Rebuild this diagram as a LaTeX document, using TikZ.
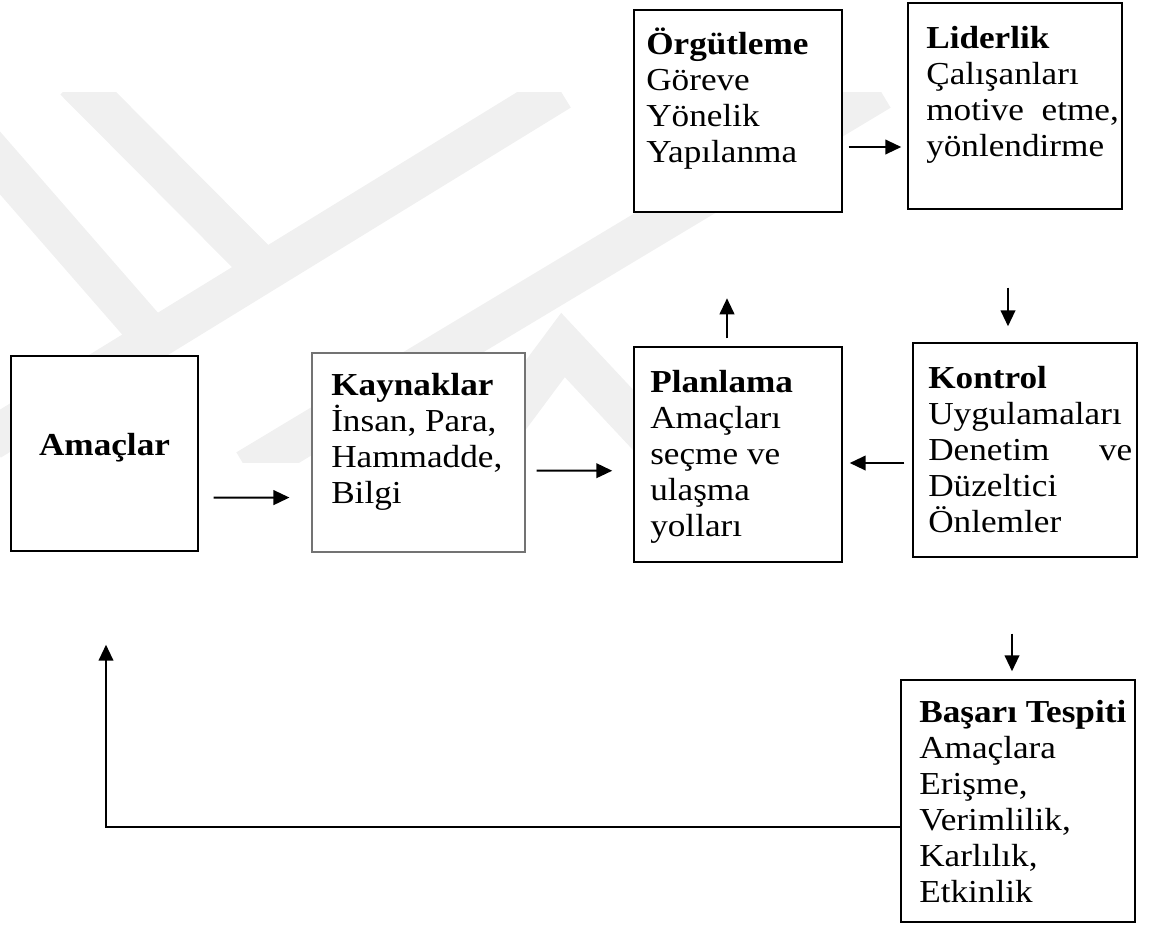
\documentclass[tikz,border=0pt]{standalone}
\usepackage{fontspec}
\setmainfont{Liberation Serif}[FakeStretch=1.1]
\usetikzlibrary{arrows.meta}

\begin{document}
\begin{tikzpicture}[x=0.75pt,y=-0.75pt,
  box/.style={draw=black, line width=1.1pt, fill=white, inner sep=0pt},
  thinbox/.style={draw=black!55, line width=0.8pt, fill=white, inner sep=0pt},
  txt/.style={anchor=north west, align=left, inner sep=0pt,
              font=\fontsize{24pt}{27pt}\selectfont},
  arr/.style={line width=1.5pt, -{Triangle[length=12pt,width=11pt]}},
  wm/.style={line width=31pt, black!6, line cap=butt}]
\useasboundingbox (0,0) rectangle (1150,926);

% faint logo in the background
\begin{scope}
  \clip (0,92) rectangle (1150,462);
  \draw[wm] (-10,440) -- (560,90);
  \draw[wm] (75,80) -- (262,268);
  \draw[wm] (-20,140) -- (150,335);
  \draw[wm] (247,470) -- (880,90);
  \draw[wm, line join=miter] (470,470) -- (563,345) -- (680,470);
\end{scope}

% boxes
\node[box, minimum width=140.25pt, minimum height=146.25pt] (amac) at (104.5,453.5) {};
\node[thinbox, minimum width=159.75pt, minimum height=149.25pt] (kayn) at (418.5,452.5) {};
\node[box, minimum width=156pt, minimum height=161.25pt] (plan) at (738,454.5) {};
\node[box, minimum width=168pt, minimum height=160.5pt] (kont) at (1025,450) {};
\node[box, minimum width=156pt, minimum height=151.5pt] (orgut) at (738,111) {};
\node[box, minimum width=160.5pt, minimum height=154.5pt] (lider) at (1015,106) {};
\node[box, minimum width=175.5pt, minimum height=181.5pt] (basari) at (1018,801) {};

% texts
\node[anchor=base, inner sep=0pt, font=\fontsize{24pt}{27pt}\selectfont\bfseries]
  (amac-t) at (104.5,455) {Amaçlar};
\node[txt] (kayn-t) at (331,366)
  {\rule{0pt}{22pt}\textbf{Kaynaklar}\\İnsan, Para,\\Hammadde,\\Bilgi};
\node[txt] (plan-t) at (650,363)
  {\rule{0pt}{22pt}\textbf{Planlama}\\Amaçları\\seçme ve\\ulaşma\\yolları};
\node[txt, text width=153pt] (kont-t) at (928,359)
  {\rule{0pt}{22pt}\textbf{Kontrol}\\Uygulamaları\\Denetim\hfill ve\\Düzeltici\\Önlemler};
\node[txt] (orgut-t) at (646,25)
  {\rule{0pt}{22pt}\textbf{Örgütleme}\\Göreve\\Yönelik\\Yapılanma};
\node[txt] (lider-t) at (926,19)
  {\rule{0pt}{22pt}\textbf{Liderlik}\\Çalışanları\\motive\ \ etme,\\yönlendirme};
\node[txt] (basari-t) at (919,693)
  {\rule{0pt}{22pt}\textbf{Başarı Tespiti}\\Amaçlara\\Erişme,\\Verimlilik,\\Karlılık,\\Etkinlik};

% connectors
\draw[arr] ([shift={(15,-54)}]amac.south east) -- ([shift={(-22,-55)}]kayn.south west);
\draw[arr] ([shift={(11,-82)}]kayn.south east) -- ([shift={(-21,-92)}]plan.south west);
\draw[arr] ([shift={(-11,-8)}]plan.north) -- ([shift={(-11,-48)}]plan.north);
\draw[arr] ([shift={(6,36)}]orgut.east) -- ([shift={(-6,41)}]lider.west);
\draw[arr] ([shift={(-7,78)}]lider.south) -- ([shift={(-17,-16)}]kont.north);
\draw[arr] ([shift={(-8,13)}]kont.west) -- ([shift={(7,8.5)}]plan.east);
\draw[arr] ([shift={(-13,76)}]kont.south) -- ([shift={(-6,-8)}]basari.north);
\draw[arr] ([yshift=-19.5pt]basari.west) -| ([shift={(1.5,93)}]amac.south);
\end{tikzpicture}
\end{document}
